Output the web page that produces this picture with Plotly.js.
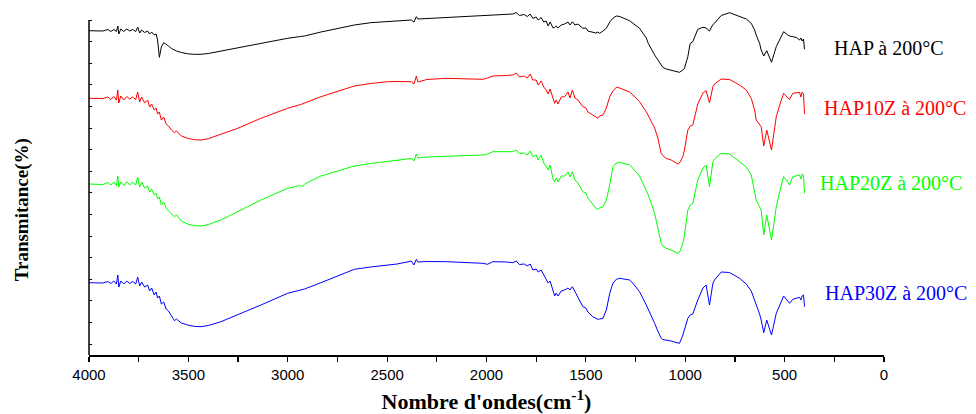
<!DOCTYPE html>
<html>
<head>
<meta charset="utf-8">
<script src="https://cdn.plot.ly/plotly-3.0.1.min.js"></script>
<style>html,body{margin:0;padding:0;background:#fff;}#chart{width:976px;height:414px;}</style>
</head>
<body>
<div id="chart"></div>
<script>
// Wavenumbers (cm-1), shared by all spectra
const wavenumber = [4000,3960,3930,3905,3890,3875,3862,3855,3850,3840,3825,3810,3795,3780,3765,3755,3745,3735,3720,3705,
  3695,3685,3672,3662,3655,3646,3636,3624,3612,3600,3585,3570,3560,3535,3504,3470,3437,3400,3336,3252,
  3135,3001,2935,2925,2915,2833,2749,2665,2583,2498,2450,2400,2378,2365,2353,2345,2300,2202,2100,2018,
  1995,1968,1900,1867,1850,1835,1810,1795,1780,1767,1750,1740,1725,1712,1700,1690,1680,1665,1657,1649,
  1640,1624,1607,1590,1580,1568,1555,1540,1515,1500,1490,1465,1450,1440,1431,1414,1397,1380,1364,1347,
  1330,1280,1263,1230,1196,1186,1154,1138,1121,1113,1096,1071,1037,1029,1012,1004,987,975,962,937,
  911,895,878,861,853,819,777,727,693,668,651,643,626,618,605,590,566,542,520,505,
  484,475,459,440,425,418,412,405,400];

// Transmittance (arbitrary units, spectra shifted for display)
const hap = [324.3,324.5,324,325.5,323.5,325.5,323.5,329,321,326,323.5,326,324,325.5,323.5,328,322,325,322.5,324,
  321,323,320,321,315,297.7,308,312.3,311,309,306.5,305,304,302.5,301.2,300.7,300.7,301.5,304,306.7,
  312,316.7,318.5,318.7,319,323,326.7,330,332.3,333.7,334.2,334.7,335,333,338.3,336,336.5,337.5,338.5,339.5,
  340,340.5,341,341,342.5,339.5,340.5,338.5,341,336.7,338,335,337.5,333,334,329,333,327,327.7,329,
  327,330,331,333,330,333.3,330,331,326.7,327,324,322.7,322,323,321.7,324,326.7,333,336.7,339,
  338.5,334.3,332,326.7,317,311.7,300,295,290,287.7,286,285,283,282.7,285,286.7,298.3,311.7,313.3,325.7,
  327.7,327,324,330.5,331.7,339.5,342.3,339,336,331.7,325,320,311.7,305,299,304.3,292.7,308.3,318,323.3,
  320,319,318.3,317.5,315,317,314,316,305.7];

const hap10z = [256.7,257,256.5,258,255.5,258.5,255,265,252,259,255,258.5,256,258,255.5,263,253,258,252,255,
  248,251,245,247,241,243,235,238,231,229,225,222.3,224,219,216.7,215.3,215,216.3,220.7,226.7,
  236.7,246.7,250.5,251,252,258.3,264,269,271.5,273.3,273.5,273.5,273.3,271,279,273,275.5,276.7,276.3,275.7,
  277,279,279.5,280,282,278,279,277,281,275,275,270,274,268,265,261,266,255,251.7,255,
  251,258,258.3,263,257,265,257,255,248.3,247,243,240,238,236.7,239,240,247,258.3,264,267.7,
  267,263,260,253.3,243.3,239,227,217,201.7,199.5,196.7,195,191,192,198.3,205,225,229,230,251,
  262,264.3,252.3,268.3,271,276,275.5,270,265,256.7,245,235,230,228.3,209,225,205,238.3,253,261.7,
  257,255.7,261.7,262,262.7,258,263,261,241];

const hap20z = [171,171,170.5,172.5,170,173,169.5,179,168,173,169.5,173.5,170,173,170,178,168,173,167,169,
  163,166,160,162,156,158,150,153,147,144,141,138.3,140,134,131,129.4,129,130.5,135,143.3,
  155,166.7,169.5,168.5,171,179,184,189,191.5,193.3,194.5,196,196.7,194,201,197,198,199,199.5,200,
  201,203.3,203.3,203.3,205,201.5,202,200,204,198.3,200,195,200,192,188.3,185,190,176,173.3,177,
  173,179,179,183,178,183.3,175,172,163.3,162,157,150,147,145.7,147,148.3,155,170,188.3,192,
  192.7,190,186.7,179,165,160,141.7,127,111.7,109,106.7,105,101.7,102.5,111.7,120,145,150,151.7,175,
  187,190,168.3,193.3,196,201.7,201,193.3,188,180,165,155,148,145,120,140,115,148.3,167,178.3,
  173,170,178.3,179,180,176,181,180,161.7];

const hap30z = [72.3,72.5,72,73.5,71.5,74,71,80,68,74,71,74,71.5,73.5,71,78,69,73,68,70,
  64,67,60,63,57,59,51,53,46,44,39,34.3,36,32,30,28.6,28.3,29.5,33.3,40,
  50,61.7,64.5,65,66,72.3,79,85.7,88,90,91,93,94,90,95.7,93,93.5,93.3,92.5,91.7,
  90.7,93.3,93,92.3,94,90.5,91,89,91,85,86,83,85,80,75,72,74,63,59,62,
  59,64,65,67,65,68.3,63,57,48.3,47,43,38.3,36.5,35.7,36,36.7,45,61.7,71.7,75.7,
  76.7,75,71.7,63.3,50,46,31.7,24,16.7,15.5,15,14,12,11.7,20,25,36.7,40,41,55,
  67,70,50,71.7,75,83,82.5,76.7,71,64,55,49,41,35,22.3,35,20,41.7,53,59,
  54,51.7,55.7,57,57.7,55,59,60,48.3];

const seriesNames = ['HAP à 200°C','HAP10Z à 200°C','HAP20Z à 200°C','HAP30Z à 200°C'];
const seriesValues = [hap, hap10z, hap20z, hap30z];
const xTickVals = [4000,3500,3000,2500,2000,1500,1000,500,0];
const xTickText = ['4000','3500','3000','2500','2000','1500','1000','500','0'];

const colors = ['#000000','#ff0000','#00ff00','#0000ff'];
const labelPos = [{x:1.0055,y:307},{x:1.0135,y:247},{x:1.0085,y:172},{x:1.0145,y:62}];

const traces = seriesValues.map((v,i)=>({
  type:'scatter', mode:'lines', x:wavenumber, y:v, name:seriesNames[i],
  line:{color:colors[i], width:1}, hoverinfo:'skip'
}));

const annotations = seriesNames.map((n,i)=>({
  xref:'paper', yref:'y', x:labelPos[i].x, y:labelPos[i].y, text:n, showarrow:false,
  xanchor:'center', yanchor:'middle',
  font:{family:'Liberation Serif, Times New Roman, serif', size:20, color:colors[i]}
}));
annotations.push({
  xref:'paper', yref:'paper', x:-0.084, y:0.42, text:'<b>Transmitance(%)</b>', textangle:-90, showarrow:false,
  xanchor:'center', yanchor:'middle',
  font:{family:'Liberation Serif, Times New Roman, serif', size:19, color:'#000'}
});

const layout = {
  width:976, height:414,
  margin:{l:89, r:92, t:10, b:59},
  paper_bgcolor:'#fff', plot_bgcolor:'#fff',
  showlegend:false,
  font:{family:'Liberation Sans, Arial, sans-serif', color:'#000'},
  xaxis:{
    range:[4000,0], tickvals:xTickVals, ticktext:xTickText,
    ticks:'outside', ticklen:5, tickwidth:1.2, tickcolor:'#000',
    minor:{dtick:250, tick0:0, ticks:'outside', ticklen:5, tickwidth:1.2, tickcolor:'#000', showgrid:false},
    showline:true, linecolor:'#000', linewidth:1.5, mirror:false,
    showgrid:false, zeroline:false,
    tickfont:{size:15, family:'Liberation Sans, Arial, sans-serif', color:'#000'},
    title:{text:'<b>Nombre d\'ondes(cm<sup>-1</sup>)</b>', standoff:12,
      font:{family:'Liberation Serif, Times New Roman, serif', size:22, color:'#000'}}
  },
  yaxis:{
    range:[0,345], showticklabels:false,
    tick0:11, dtick:21.6, ticks:'inside', ticklen:3, tickwidth:1, tickcolor:'#000',
    showline:false, showgrid:false, zeroline:false
  },
  shapes:[{type:'line', xref:'paper', yref:'y', x0:0, x1:0, y0:0, y1:335,
    line:{color:'#000', width:1.5}}],
  annotations:annotations
};

Plotly.newPlot('chart', traces, layout, {displayModeBar:false, staticPlot:true});
</script>
</body>
</html>
